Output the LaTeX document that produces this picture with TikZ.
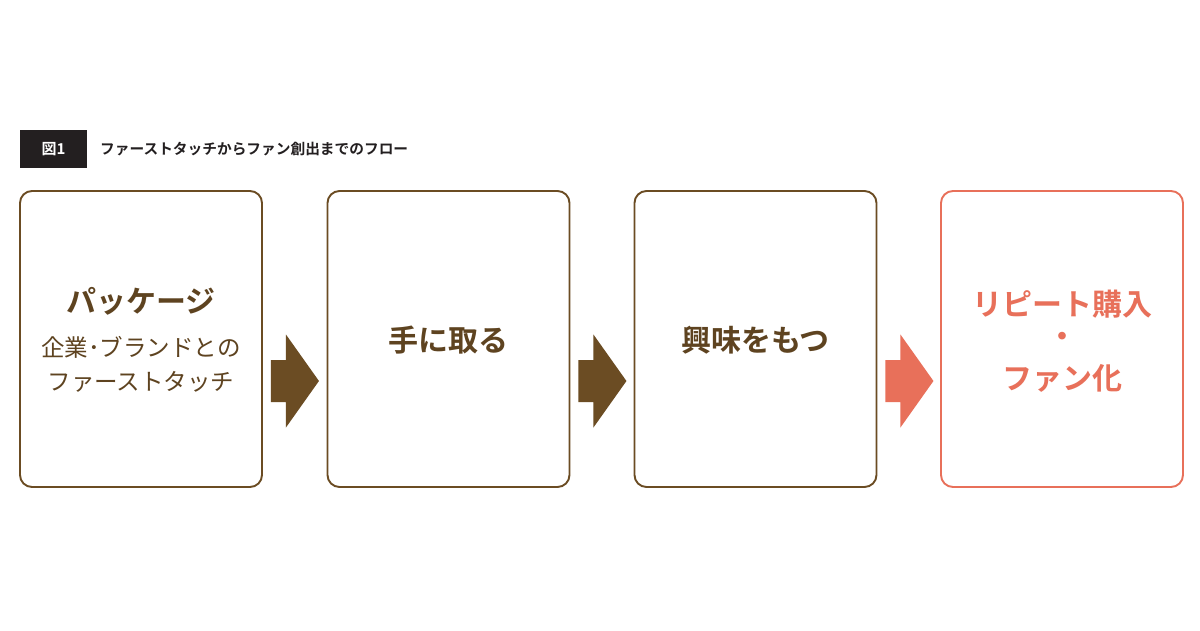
\documentclass[tikz,border=0pt]{standalone}
\usepackage{fontspec}
\setmainfont{Noto Sans CJK JP}
\newfontfamily\jpb{Noto Sans CJK JP Bold}
\definecolor{brownc}{HTML}{6B4C23}
\definecolor{browntext}{HTML}{5E4320}
\definecolor{orangec}{HTML}{E8705A}
\definecolor{headbg}{HTML}{231F20}
\tikzset{
  box/.style={draw=#1, line width=1.9pt, rounded corners=12pt, minimum width=242pt, minimum height=296pt, inner sep=0pt, fill=white},
  boldtxt/.style={font=\jpb\fontsize{30}{35}\selectfont, text=#1, inner sep=0pt, anchor=center},
  regtxt/.style={font=\fontsize{23.5}{28}\selectfont, text=browntext, inner sep=0pt, anchor=center},
}
\begin{document}
\begin{tikzpicture}[x=1pt,y=-1pt]
\useasboundingbox (0,0) rectangle (1200,630);
\fill[white] (0,0) rectangle (1200,630);
% header
\node[fill=headbg, minimum width=67pt, minimum height=38pt, inner sep=0pt, text=white, font=\jpb\fontsize{15}{18}\selectfont] (hd) at (53.5,149) {図1};
\node[anchor=west, inner sep=0pt, font=\jpb\fontsize{14.7}{17}\selectfont, text=headbg] (title) at (100,149) {ファーストタッチからファン創出までのフロー};
% boxes
\node[box=brownc] (b1) at (141,339) {};
\node[box=brownc] (b2) at (448.5,339) {};
\node[box=brownc] (b3) at (755.5,339) {};
\node[box=orangec] (b4) at (1062,339) {};
% texts
\node[boldtxt=browntext] (t1a) at (141,301) {パッケージ};
\node[regtxt] (t1b) at (141,347) {企業･ブランドとの};
\node[regtxt] (t1c) at (141,382) {ファーストタッチ};
\node[boldtxt=browntext] (t2) at (448.5,340) {手に取る};
\node[boldtxt=browntext] (t3) at (755.5,340) {興味をもつ};
\node[boldtxt=orangec] (t4a) at (1062,304) {リピート購入};
\node[boldtxt=orangec] (t4b) at (1062,340) {・};
\node[boldtxt=orangec] (t4c) at (1062,378) {ファン化};
% arrows
\foreach \b/\c in {b1/brownc,b2/brownc,b3/orangec}{
  \fill[\c] ([xshift=8pt,yshift=-21pt]\b.east) -- ++(15,0) -- ++(0,-25.5) -- ++(33,46.5) -- ++(-33,46.5) -- ++(0,-25.5) -- ++(-15,0) -- cycle;
}
\end{tikzpicture}
\end{document}
